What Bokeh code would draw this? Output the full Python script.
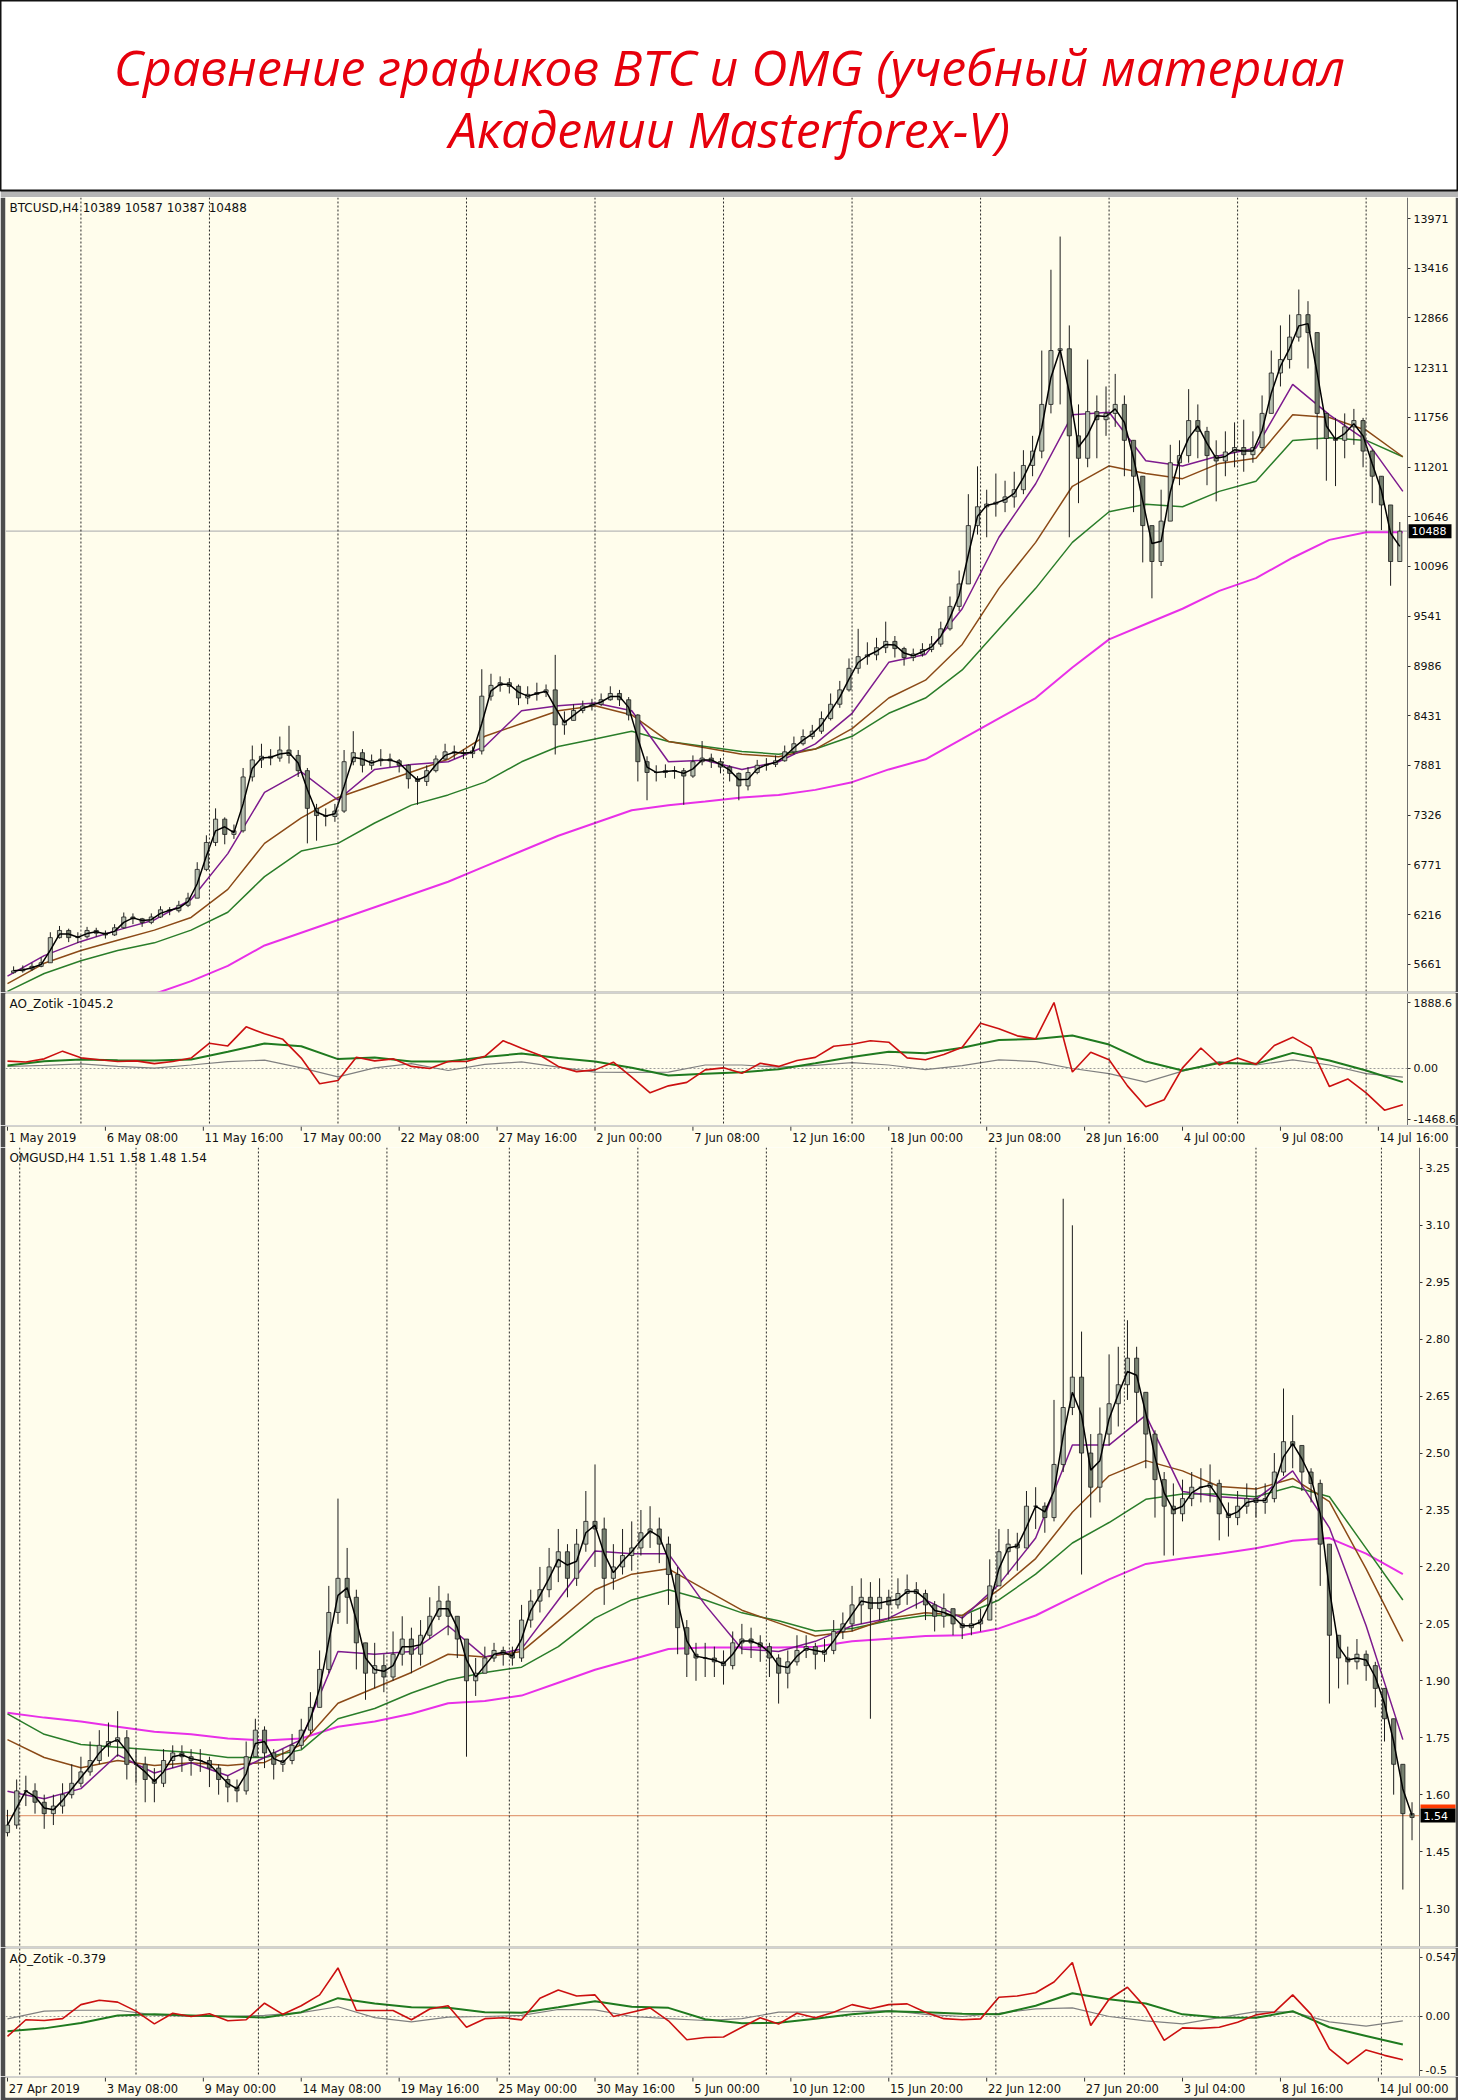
import numpy as np
import pandas as pd
from bokeh.plotting import figure
from bokeh.layouts import column
from bokeh.models import Range1d, FixedTicker, Label, Span, ColumnDataSource, LinearAxis
from bokeh.core.properties import value
from bokeh.embed import file_html
from bokeh.resources import INLINE

# ---------------- texts ----------------
TITLE_1 = "Сравнение графиков BTC и OMG (учебный материал"
TITLE_2 = "Академии Masterforex-V)"
btc_header = "BTCUSD,H4  10389 10587 10387 10488"
btc_ao_header = "AO_Zotik -1045.2"
omg_header = "OMGUSD,H4  1.51 1.58 1.48 1.54"
omg_ao_header = "AO_Zotik -0.379"

# ---------------- BTC data (12h candles = 3 H4 bars, first at bar 2) ----------------
btc_first_open = 5570
btc_close = [
    5590, 5610, 5640, 5680, 5960, 6040, 5960, 5970, 6040, 6010,
    5990, 6070, 6190, 6170, 6130, 6190, 6270, 6260, 6320, 6400,
    6720, 7020, 7280, 7110, 7150, 7750, 7940, 7980, 7960, 8050,
    7990, 7820, 7400, 7320, 7310, 7370, 7920, 8020, 7880, 7930,
    7950, 7930, 7880, 7730, 7700, 7820, 7950, 8030, 8020, 8010,
    8040, 8650, 8770, 8800, 8760, 8630, 8670, 8690, 8720, 8330,
    8380, 8490, 8540, 8560, 8610, 8680, 8610, 8440, 7920, 7800,
    7800, 7820, 7820, 7760, 7920, 7960, 7920, 7860, 7790, 7650,
    7800, 7880, 7890, 7930, 8030, 8120, 8200, 8260, 8400, 8560,
    8720, 8960, 9090, 9110, 9190, 9260, 9180, 9080, 9120, 9170,
    9230, 9400, 9650, 9900, 10550, 10760, 10790, 10810, 10870, 10950,
    11220, 11380, 11900, 12500, 12520, 11550, 11300, 11820, 11730, 11800,
    11900, 11500, 11100, 10550, 10150, 10600, 11250, 11330, 11720, 11600,
    11330, 11270, 11370, 11420, 11340, 11420, 11800, 12250, 12400, 12650,
    12900, 12700, 11800, 11520, 11500, 11650, 11720, 11380, 11100, 10780,
    10150, 10488]
btc_high = [
    5640, 5650, 5680, 5740, 6020, 6090, 6060, 6020, 6080, 6070,
    6040, 6110, 6240, 6230, 6180, 6230, 6310, 6300, 6370, 6460,
    6800, 7100, 7400, 7300, 7220, 7850, 8100, 8120, 8060, 8200,
    8320, 8050, 7850, 7450, 7400, 7450, 8050, 8260, 8060, 8000,
    8060, 8010, 7950, 7890, 7760, 7880, 7990, 8120, 8100, 8060,
    8090, 8950, 8900, 8870, 8850, 8780, 8760, 8800, 8780, 9110,
    8480, 8560, 8600, 8620, 8680, 8760, 8720, 8640, 8450, 7980,
    7880, 7890, 7870, 7850, 7990, 8150, 8010, 7960, 7880, 7800,
    7860, 7940, 7960, 7990, 8100, 8200, 8280, 8330, 8480, 8680,
    8820, 9070, 9400, 9250, 9300, 9480, 9320, 9200, 9180, 9240,
    9320, 9480, 9760, 10050, 10900, 11210, 10950, 11130, 11050, 11150,
    11390, 11550, 12500, 13400, 13770, 12780, 11900, 12400, 12000, 12100,
    12240, 12000, 11400, 11100, 10500, 10950, 11450, 11500, 12070, 11900,
    11650, 11500, 11600, 11700, 11730, 11600, 12000, 12500, 12780, 12900,
    13180, 13050, 12700, 11800, 11750, 11800, 11850, 11750, 11400, 11100,
    10500, 10590]
btc_low = [
    5560, 5570, 5590, 5630, 5700, 5950, 5910, 5900, 5950, 5970,
    5950, 5980, 6060, 6110, 6080, 6110, 6180, 6210, 6240, 6300,
    6420, 6700, 6980, 7000, 7060, 7130, 7700, 7850, 7880, 7920,
    7900, 7750, 7010, 7040, 7200, 7250, 7350, 7880, 7800, 7830,
    7870, 7860, 7800, 7620, 7440, 7650, 7800, 7940, 7950, 7950,
    7960, 8000, 8600, 8700, 8680, 8550, 8560, 8600, 8640, 8000,
    8220, 8400, 8460, 8490, 8540, 8600, 8540, 8380, 7700, 7490,
    7700, 7740, 7730, 7440, 7740, 7880, 7850, 7790, 7700, 7490,
    7600, 7780, 7820, 7860, 7920, 8000, 8100, 8170, 8230, 8380,
    8520, 8700, 8900, 9000, 9050, 9130, 9080, 8990, 9040, 9090,
    9140, 9200, 9380, 9600, 9900, 10450, 10420, 10650, 10700, 10750,
    10900, 11100, 11300, 11800, 11900, 10420, 10800, 11200, 11300, 11550,
    11650, 11100, 10700, 10140, 9740, 10100, 10800, 11000, 11250, 11300,
    11000, 10820, 11100, 11200, 11150, 11250, 11380, 11800, 12100, 12300,
    12600, 12300, 11400, 11050, 10990, 11300, 11450, 11200, 10800, 10500,
    9880, 10390]

# moving averages, one value every 12 H4 bars (bar 0 .. 456)
btc_ma_purple = [5532, 5760, 5918, 6044, 6157, 6385, 6896, 7578, 7806, 7493,
                 7834, 7890, 7919, 8089, 8487, 8544, 8573, 8487, 7919, 7935,
                 7834, 7919, 8118, 8459, 9027, 9113, 9624, 10420, 11016, 11784,
                 11812, 11272, 11215, 11329, 11414, 12124, 11784, 11499, 10931]
btc_ma_brown = [5447, 5674, 5816, 5930, 6044, 6185, 6498, 7010, 7294, 7521,
                7663, 7806, 7947, 8203, 8345, 8487, 8544, 8441, 8146, 8075,
                8004, 7976, 8061, 8288, 8629, 8828, 9226, 9851, 10363, 10988,
                11215, 11130, 11073, 11243, 11300, 11784, 11755, 11613, 11317]
btc_ma_green = [5362, 5561, 5703, 5816, 5902, 6044, 6243, 6640, 6925, 7010,
                7237, 7436, 7550, 7692, 7919, 8089, 8174, 8260, 8146, 8089,
                8033, 8004, 8061, 8203, 8459, 8629, 8942, 9397, 9851, 10363,
                10704, 10789, 10760, 10931, 11045, 11499, 11528, 11499, 11317]
btc_ma_magenta = [4900, 5000, 5100, 5200, 5333, 5475, 5645, 5873, 6015, 6157,
                  6299, 6441, 6583, 6754, 6925, 7095, 7237, 7379, 7436, 7476,
                  7521, 7550, 7606, 7692, 7834, 7947, 8174, 8402, 8629, 8970,
                  9283, 9454, 9624, 9823, 9965, 10192, 10391, 10476, 10476]

# AO oscillator: red every 6 bars, green/gray every 12 bars
btc_ao = [211, 185, 278, 500, 307, 250, 200, 220, 140, 201,
          300, 729, 650, 1200, 1000, 840, 300, -440, -346, 326,
          220, 278, 60, 0, 201, 201, 350, 800, 580, 380,
          60, -90, -40, 182, -250, -700, -500, -400, -40, 19,
          -140, 150, 60, 230, 320, 640, 700, 800, 758, 307,
          250, 400, 614, 1300, 1142, 940, 854, 1900, -100, 470,
          250, -500, -1100, -900, 19, 590, 100, 300, 120, 662,
          902, 600, -520, -300, -700, -1200, -1045]
btc_ao_green = [86, 211, 259, 240, 230, 260, 480, 720, 640, 270,
                320, 200, 201, 330, 430, 300, 201, 20, -200, -150,
                -110, -20, 150, 330, 480, 440, 600, 820, 850, 950,
                690, 200, -58, 160, 134, 450, 230, -60, -394]
btc_ao_gray = [58, 90, 134, 60, 10, 100, 200, 240, 20, -240,
               20, 140, -58, 120, 190, 40, -106, -110, -106, 100,
               100, 40, 90, 170, 100, -30, 80, 250, 200, 0,
               -150, -394, -77, 200, 100, 250, 100, -150, -250]

btc_price_ticks = [13971, 13416, 12866, 12311, 11756, 11201, 10646, 10096,
                   9541, 8986, 8431, 7881, 7326, 6771, 6216, 5661]
btc_price_tick_labels = [str(v) for v in btc_price_ticks]
btc_ao_ticks = [1888.6, 0.0, -1468.6]
btc_ao_tick_labels = ["1888.6", "0.00", "-1468.6"]
btc_last = 10488
btc_last_text = "10488"
btc_date_labels = ["1 May 2019", "6 May 08:00", "11 May 16:00", "17 May 00:00",
                   "22 May 08:00", "27 May 16:00", "2 Jun 00:00", "7 Jun 08:00",
                   "12 Jun 16:00", "18 Jun 00:00", "23 Jun 08:00", "28 Jun 16:00",
                   "4 Jul 00:00", "9 Jul 08:00", "14 Jul 16:00"]
btc_grid_bars = [24, 66, 108, 150, 192, 234, 276, 318, 360, 402, 444]

# ---------------- OMG data (12h candles, first at bar 0) ----------------
omg_first_open = 1.50
omg_close = [
    1.52, 1.61, 1.61, 1.58, 1.55, 1.57, 1.60, 1.63, 1.66, 1.69,
    1.73, 1.74, 1.75, 1.68, 1.68, 1.64, 1.63, 1.69, 1.71, 1.70,
    1.69, 1.69, 1.67, 1.64, 1.62, 1.61, 1.70, 1.77, 1.71, 1.68,
    1.69, 1.73, 1.77, 1.83, 1.93, 2.08, 2.17, 2.12, 2.00, 1.92,
    1.94, 1.91, 1.97, 2.01, 1.97, 2.02, 2.07, 2.11, 2.07, 2.01,
    1.90, 1.92, 1.96, 1.98, 1.97, 1.96, 2.06, 2.11, 2.14, 2.20,
    2.24, 2.17, 2.26, 2.32, 2.30, 2.17, 2.20, 2.23, 2.25, 2.29,
    2.30, 2.26, 2.18, 2.04, 1.97, 1.96, 1.96, 1.95, 1.94, 2.00,
    2.01, 2.00, 1.99, 1.96, 1.92, 1.95, 1.98, 1.99, 1.97, 1.98,
    2.03, 2.05, 2.10, 2.12, 2.09, 2.12, 2.10, 2.13, 2.14, 2.13,
    2.10, 2.07, 2.09, 2.05, 2.04, 2.05, 2.06, 2.15, 2.24, 2.26,
    2.25, 2.36, 2.36, 2.33, 2.47, 2.62, 2.70, 2.50, 2.41, 2.55,
    2.63, 2.68, 2.75, 2.66, 2.55, 2.43, 2.36, 2.34, 2.38, 2.41,
    2.41, 2.42, 2.34, 2.33, 2.36, 2.38, 2.37, 2.38, 2.45, 2.53,
    2.52, 2.45, 2.42, 2.26, 2.02, 1.96, 1.95, 1.97, 1.94, 1.88,
    1.80, 1.68, 1.55, 1.54]
omg_high = [
    1.56, 1.64, 1.65, 1.63, 1.60, 1.60, 1.63, 1.68, 1.70, 1.74,
    1.77, 1.79, 1.82, 1.77, 1.72, 1.70, 1.67, 1.72, 1.73, 1.73,
    1.72, 1.72, 1.70, 1.68, 1.65, 1.64, 1.74, 1.80, 1.78, 1.72,
    1.72, 1.76, 1.80, 1.87, 1.98, 2.15, 2.38, 2.25, 2.14, 2.00,
    2.00, 1.97, 2.03, 2.07, 2.04, 2.06, 2.12, 2.15, 2.13, 2.06,
    2.00, 1.96, 1.99, 2.00, 1.99, 1.99, 2.10, 2.14, 2.20, 2.25,
    2.30, 2.26, 2.30, 2.40, 2.47, 2.33, 2.26, 2.30, 2.32, 2.35,
    2.36, 2.33, 2.28, 2.20, 2.06, 2.00, 2.00, 1.99, 1.98, 2.03,
    2.05, 2.04, 2.02, 2.00, 1.97, 1.98, 2.02, 2.02, 2.00, 2.01,
    2.06, 2.08, 2.15, 2.17, 2.16, 2.17, 2.14, 2.17, 2.18, 2.16,
    2.14, 2.11, 2.13, 2.09, 2.07, 2.08, 2.09, 2.22, 2.30, 2.30,
    2.29, 2.40, 2.41, 2.37, 2.64, 3.17, 3.10, 2.82, 2.55, 2.62,
    2.76, 2.78, 2.85, 2.78, 2.65, 2.56, 2.45, 2.42, 2.43, 2.45,
    2.46, 2.47, 2.43, 2.37, 2.40, 2.42, 2.41, 2.42, 2.50, 2.67,
    2.60, 2.52, 2.46, 2.43, 2.22, 2.02, 1.99, 2.01, 1.98, 1.95,
    1.88, 1.76, 1.66, 1.58]
omg_low = [
    1.49, 1.51, 1.57, 1.55, 1.51, 1.52, 1.55, 1.59, 1.62, 1.65,
    1.68, 1.70, 1.70, 1.64, 1.63, 1.58, 1.58, 1.62, 1.67, 1.66,
    1.65, 1.66, 1.62, 1.60, 1.58, 1.58, 1.60, 1.70, 1.67, 1.64,
    1.66, 1.68, 1.72, 1.76, 1.83, 1.92, 2.05, 2.05, 1.93, 1.85,
    1.88, 1.87, 1.90, 1.94, 1.92, 1.94, 2.01, 2.06, 2.02, 1.96,
    1.70, 1.86, 1.92, 1.95, 1.94, 1.94, 1.95, 2.04, 2.08, 2.12,
    2.16, 2.12, 2.15, 2.24, 2.20, 2.10, 2.14, 2.18, 2.19, 2.23,
    2.25, 2.21, 2.10, 1.97, 1.91, 1.90, 1.91, 1.91, 1.89, 1.93,
    1.97, 1.96, 1.95, 1.91, 1.84, 1.88, 1.94, 1.96, 1.93, 1.95,
    1.97, 2.01, 2.03, 2.05, 1.80, 2.06, 2.06, 2.09, 2.10, 2.09,
    2.06, 2.03, 2.04, 2.02, 2.01, 2.02, 2.03, 2.06, 2.15, 2.18,
    2.19, 2.25, 2.30, 2.29, 2.32, 2.45, 2.60, 2.18, 2.33, 2.37,
    2.52, 2.57, 2.64, 2.58, 2.46, 2.33, 2.23, 2.23, 2.32, 2.36,
    2.37, 2.37, 2.27, 2.28, 2.31, 2.34, 2.33, 2.34, 2.37, 2.44,
    2.46, 2.40, 2.37, 2.15, 1.84, 1.88, 1.89, 1.93, 1.90, 1.83,
    1.74, 1.60, 1.35, 1.48]

omg_ma_purple = [1.609, 1.589, 1.616, 1.705, 1.657, 1.684, 1.650, 1.698, 1.745, 1.977,
                 1.970, 1.977, 2.045, 1.963, 1.984, 2.113, 2.242, 2.235, 2.235, 2.100,
                 1.984, 1.977, 2.004, 2.045, 2.065, 2.113, 2.065, 2.154, 2.276, 2.521,
                 2.521, 2.600, 2.399, 2.385, 2.378, 2.453, 2.303, 2.045, 1.745]
omg_ma_brown = [1.745, 1.698, 1.671, 1.690, 1.677, 1.684, 1.677, 1.685, 1.732, 1.841,
                1.881, 1.922, 1.970, 1.963, 1.977, 2.058, 2.140, 2.181, 2.195, 2.140,
                2.086, 2.052, 2.018, 2.031, 2.065, 2.079, 2.072, 2.140, 2.222, 2.344,
                2.440, 2.480, 2.453, 2.412, 2.405, 2.433, 2.372, 2.195, 2.004]
omg_ma_green = [1.813, 1.759, 1.732, 1.725, 1.718, 1.711, 1.698, 1.698, 1.718, 1.800,
                1.827, 1.868, 1.902, 1.922, 1.936, 1.990, 2.065, 2.113, 2.140, 2.113,
                2.079, 2.058, 2.031, 2.038, 2.058, 2.072, 2.072, 2.113, 2.181, 2.263,
                2.317, 2.378, 2.392, 2.392, 2.385, 2.412, 2.385, 2.249, 2.113]
omg_ma_magenta = [1.816, 1.803, 1.793, 1.779, 1.766, 1.759, 1.748, 1.743, 1.748, 1.779,
                  1.793, 1.813, 1.841, 1.847, 1.861, 1.895, 1.929, 1.956, 1.984, 1.988,
                  1.988, 1.988, 1.990, 2.004, 2.011, 2.018, 2.020, 2.038, 2.072, 2.120,
                  2.167, 2.208, 2.222, 2.235, 2.249, 2.269, 2.276, 2.235, 2.181]

omg_ao = [-0.185, -0.03, -0.037, -0.02, 0.11, 0.15, 0.133, 0.05, -0.068, 0.03,
          0.00, 0.025, -0.04, -0.03, 0.123, 0.02, 0.10, 0.20, 0.45, 0.055,
          0.055, 0.055, -0.03, 0.07, 0.10, -0.10, -0.02, -0.012, -0.031, 0.17,
          0.245, 0.19, 0.20, 0.00, 0.04, 0.08, -0.04, -0.215, -0.195, -0.19,
          -0.099, -0.012, -0.07, 0.03, -0.012, 0.04, 0.11, 0.071, 0.11, 0.117,
          0.04, -0.02, -0.03, -0.022, 0.179, 0.19, 0.22, 0.32, 0.50, -0.084,
          0.16, 0.271, 0.08, -0.222, -0.105, -0.11, -0.10, -0.053, 0.015, 0.04,
          0.20, 0.02, -0.30, -0.438, -0.31, -0.36, -0.40]
omg_ao_green = [-0.136, -0.11, -0.06, 0.01, 0.02, 0.01, 0.00, -0.01, 0.04, 0.17,
                0.12, 0.085, 0.08, 0.04, 0.035, 0.086, 0.142, 0.09, 0.08, -0.025,
                -0.062, -0.058, -0.02, 0.02, 0.049, 0.04, 0.025, 0.02, 0.10, 0.216,
                0.16, 0.12, 0.02, -0.01, -0.012, 0.049, -0.10, -0.18, -0.26]
omg_ao_gray = [-0.022, 0.049, 0.058, 0.058, 0.015, 0.00, 0.00, 0.01, 0.035, 0.09,
               -0.01, -0.05, -0.006, 0.00, 0.01, 0.065, 0.061, 0.00, -0.02, -0.037,
               -0.02, 0.04, 0.04, 0.045, 0.055, 0.02, 0.00, 0.03, 0.07, 0.08,
               0.00, -0.04, -0.068, -0.01, 0.045, 0.04, -0.05, -0.09, -0.04]

omg_price_ticks = [3.25, 3.10, 2.95, 2.80, 2.65, 2.50, 2.35, 2.20, 2.05, 1.90,
                   1.75, 1.60, 1.45, 1.30]
omg_price_tick_labels = [f"{v:.2f}" for v in omg_price_ticks]
omg_ao_ticks = [0.547, 0.0, -0.5]
omg_ao_tick_labels = ["0.547", "0.00", "-0.5"]
omg_last = 1.545
omg_last_text = "1.54"
omg_date_labels = ["27 Apr 2019", "3 May 08:00", "9 May 00:00", "14 May 08:00",
                   "19 May 16:00", "25 May 00:00", "30 May 16:00", "5 Jun 00:00",
                   "10 Jun 12:00", "15 Jun 20:00", "22 Jun 12:00", "27 Jun 20:00",
                   "3 Jul 04:00", "8 Jul 16:00", "14 Jul 00:00"]
omg_grid_bars = [4, 42, 82, 124, 164, 206, 248, 289, 323, 365, 408, 449]

# ---------------- styling / layout ----------------
W = 1458
BG = "#fffdec"
EDGE = "#4d4d4d"
FONT = "DejaVu Sans"
FRAME_COL = "#6f6f6f"
LABEL_STEP = 32          # H4 bars between time labels
MA_STEP = 12
AO_STEP = 6
CANDLE_STEP = 3
X0 = -0.65
PX_PER_BAR = 3.06
LB, RB = 5, 3
FRAME_W = W - LB - RB
X_END = X0 + FRAME_W / PX_PER_BAR
BTC_CHART_END = X0 + 1402 / PX_PER_BAR
OMG_CHART_END = X0 + 1414 / PX_PER_BAR

C_BLACK = "#000000"
C_PURPLE = "#7d1b8e"
C_BROWN = "#8b4a17"
C_GREEN = "#2a7d2a"
C_MAGENTA = "#e830e8"
C_AO_RED = "#cc1010"
C_AO_GREEN = "#1f7a1f"
C_AO_GRAY = "#808080"


def no_align(p):
    try:
        p.frame_align = False
    except Exception:
        pass


def panel(height, yr, chart_end, ticks, labels, top=0, bottom=0):
    p = figure(width=W, height=height, x_range=Range1d(X0, X_END), y_range=yr,
               output_backend="svg", toolbar_location=None,
               x_axis_location=None, y_axis_location=None,
               min_border_left=LB, min_border_right=RB,
               min_border_top=top, min_border_bottom=bottom,
               background_fill_color=BG, border_fill_color=EDGE,
               outline_line_color=None)
    no_align(p)
    p.grid.visible = False
    ax = LinearAxis(fixed_location=chart_end, ticker=FixedTicker(ticks=ticks),
                    major_label_overrides=dict(zip(ticks, labels)))
    ax.axis_line_color = None
    ax.major_tick_in = 0
    ax.major_tick_out = 3
    ax.major_tick_line_color = "#333333"
    ax.minor_tick_line_color = None
    ax.major_label_standoff = 3
    ax.major_label_text_font = FONT
    ax.major_label_text_font_size = "11px"
    ax.major_label_text_color = "#111111"
    p.add_layout(ax, "right")
    p.add_layout(Span(location=chart_end, dimension="height", line_color=FRAME_COL, line_width=1))
    return p


def add_vgrid(p, bars):
    for b in bars:
        p.add_layout(Span(location=b, dimension="height", line_color="#2a2a2a",
                          line_dash="2 2", line_width=1))


def add_header(p, text, frame_h):
    p.add_layout(Label(x=4, y=frame_h - 3, x_units="screen", y_units="screen",
                       text=text, text_font=FONT, text_font_size="12px",
                       text_baseline="top", text_color="#111111"))


def add_price_line(p, chart_end, y, color):
    p.segment(x0=[X0], y0=[y], x1=[chart_end], y1=[y], line_color=color, line_width=1.2)


def add_price_box(p, chart_end, y, text, yr, frame_h, ask_color=None):
    ypp = (yr.end - yr.start) / frame_h      # data units per pixel
    left = chart_end + 1 / PX_PER_BAR
    right = chart_end + 44 / PX_PER_BAR
    if ask_color is not None:
        p.quad(left=[left], right=[right], top=[y + 11 * ypp], bottom=[y + 7 * ypp],
               fill_color=ask_color, line_color=None)
    p.quad(left=[left], right=[right], top=[y + 7 * ypp], bottom=[y - 7 * ypp],
           fill_color="black", line_color=None)
    p.text(x=[left + 3 / PX_PER_BAR], y=[y], text=[text], text_color="white",
           text_font=value(FONT), text_font_size="11px", text_baseline="middle",
           text_align="left")


def add_candles(p, x0, first_open, close, high, low, width):
    o = np.array([first_open] + close[:-1], dtype=float)
    c = np.array(close, dtype=float)
    h = np.maximum(np.array(high, dtype=float), np.maximum(o, c))
    lo = np.minimum(np.array(low, dtype=float), np.minimum(o, c))
    x = x0 + CANDLE_STEP * np.arange(len(c))
    src = ColumnDataSource(dict(x=x, h=h, l=lo, top=np.maximum(o, c), bot=np.minimum(o, c),
                                fill=np.where(c >= o, "#b4bdae", "#76806f")))
    p.segment("x", "h", "x", "l", source=src, line_color="#1c1c1c", line_width=1)
    p.vbar(x="x", width=width, top="top", bottom="bot", source=src,
           fill_color="fill", line_color="#1c1c1c", line_width=0.8)
    fast = pd.Series(c).rolling(2, min_periods=1).mean().to_numpy()
    p.line(x, fast, line_color=C_BLACK, line_width=1.5)


def add_mas(p, purple, brown, green, magenta):
    mx = MA_STEP * np.arange(len(purple))
    p.line(mx, magenta, line_color=C_MAGENTA, line_width=2)
    p.line(mx, green, line_color=C_GREEN, line_width=1.5)
    p.line(mx, brown, line_color=C_BROWN, line_width=1.5)
    p.line(mx, purple, line_color=C_PURPLE, line_width=1.5)


def add_ao(p, chart_end, red, green, gray):
    p.segment(x0=[X0], y0=[0], x1=[chart_end], y1=[0], line_color="#9a9a9a",
              line_dash="2 2", line_width=1)
    gx = MA_STEP * np.arange(len(green))
    rx = AO_STEP * np.arange(len(red))
    p.line(gx, gray, line_color=C_AO_GRAY, line_width=1.2)
    p.line(gx, green, line_color=C_AO_GREEN, line_width=2)
    p.line(rx, red, line_color=C_AO_RED, line_width=1.6)


def date_strip(height, labels, chart_end, bottom=0):
    p = figure(width=W, height=height, x_range=Range1d(X0, X_END), y_range=Range1d(0, 1),
               output_backend="svg", toolbar_location=None,
               x_axis_location=None, y_axis_location=None,
               min_border_left=LB, min_border_right=RB, min_border_top=1,
               min_border_bottom=bottom,
               background_fill_color=BG, border_fill_color=EDGE, outline_line_color=None)
    no_align(p)
    p.grid.visible = False
    tx = LABEL_STEP * np.arange(len(labels))
    p.segment(tx, [1.0] * len(tx), tx, [0.8] * len(tx), line_color="#333333", line_width=1)
    p.text(tx + 0.4, [0.45] * len(tx), text=labels, text_align="left", text_baseline="middle",
           text_font=value(FONT), text_font_size="11.5px", text_color="#111111")
    return p


# ---------------- title ----------------
t = figure(width=W, height=197, x_range=Range1d(0, W), y_range=Range1d(0, 190),
           output_backend="svg", toolbar_location=None,
           x_axis_location=None, y_axis_location=None,
           min_border_left=0, min_border_right=0, min_border_top=0, min_border_bottom=7,
           background_fill_color="white", border_fill_color="#b5b5b5",
           outline_line_color="#111111", outline_line_width=2)
no_align(t)
t.grid.visible = False
t.text(x=[W / 2, W / 2], y=[124, 62], text=[TITLE_1, TITLE_2], text_align="center",
       text_baseline="middle", text_color="#e6000c", text_font=value("Open Sans"),
       text_font_style="italic", text_font_size="50px")

# ---------------- BTC main ----------------
BTC_H = 794
btc_yr = Range1d(5360, 14205)
p1 = panel(BTC_H + 1, btc_yr, BTC_CHART_END, btc_price_ticks, btc_price_tick_labels,
           top=0, bottom=1)
add_vgrid(p1, btc_grid_bars)
add_price_line(p1, BTC_CHART_END, btc_last, "#b8b8b8")
add_mas(p1, btc_ma_purple, btc_ma_brown, btc_ma_green, btc_ma_magenta)
add_candles(p1, 2, btc_first_open, btc_close, btc_high, btc_low, 1.35)
add_header(p1, btc_header, BTC_H)
add_price_box(p1, BTC_CHART_END, btc_last, btc_last_text, btc_yr, BTC_H)

# ---------------- BTC AO ----------------
p2 = panel(133, Range1d(-1642, 2160), BTC_CHART_END, btc_ao_ticks, btc_ao_tick_labels,
           top=1, bottom=0)
add_vgrid(p2, btc_grid_bars)
add_ao(p2, BTC_CHART_END, btc_ao, btc_ao_green, btc_ao_gray)
add_header(p2, btc_ao_header, 132)

p3 = date_strip(22, btc_date_labels, BTC_CHART_END)

# ---------------- OMG main ----------------
OMG_H = 799
omg_yr = Range1d(1.200, 3.305)
p4 = panel(OMG_H + 1, omg_yr, OMG_CHART_END, omg_price_ticks, omg_price_tick_labels,
           top=0, bottom=1)
add_vgrid(p4, omg_grid_bars)
add_price_line(p4, OMG_CHART_END, omg_last, "#e3a07a")
add_mas(p4, omg_ma_purple, omg_ma_brown, omg_ma_green, omg_ma_magenta)
add_candles(p4, 0, omg_first_open, omg_close, omg_high, omg_low, 1.35)
add_header(p4, omg_header, OMG_H)
add_price_box(p4, OMG_CHART_END, omg_last, omg_last_text, omg_yr, OMG_H, ask_color="#ff3a00")

# ---------------- OMG AO ----------------
p5 = panel(129, Range1d(-0.556, 0.630), OMG_CHART_END, omg_ao_ticks, omg_ao_tick_labels,
           top=1, bottom=0)
add_vgrid(p5, omg_grid_bars)
add_ao(p5, OMG_CHART_END, omg_ao, omg_ao_green, omg_ao_gray)
add_header(p5, omg_ao_header, 128)

p6 = date_strip(24, omg_date_labels, OMG_CHART_END, bottom=3)

layout = column(t, p1, p2, p3, p4, p5, p6, spacing=0)
open("out.html", "w").write(file_html(layout, INLINE))
